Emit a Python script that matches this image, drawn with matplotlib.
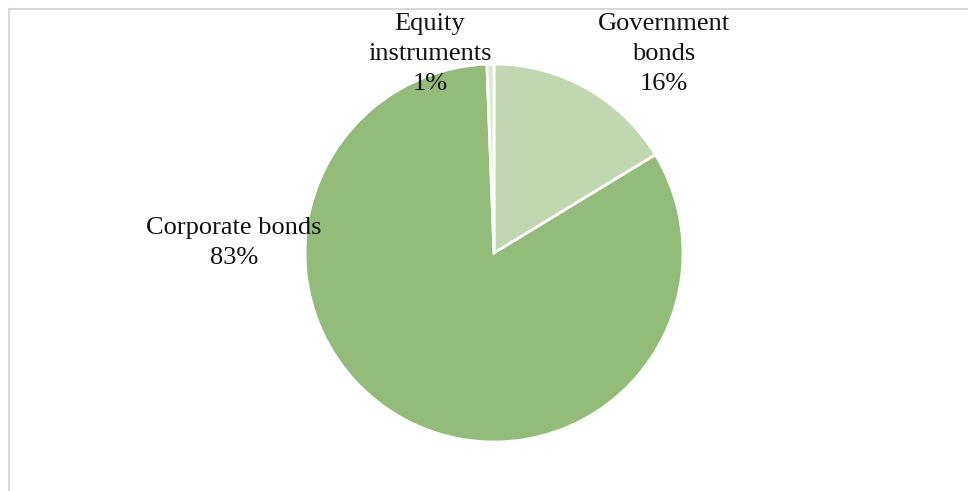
import matplotlib.pyplot as plt
from matplotlib.lines import Line2D

# Data
categories = ["Government\nbonds", "Corporate bonds", "Equity\ninstruments"]
shares = [16.3, 83.1, 0.6]
colors = ["#c0d7b1", "#93bb7a", "#dbe8d2"]

plt.rcParams["font.family"] = ["Liberation Serif", "DejaVu Serif"]

W, H = 968, 491
fig = plt.figure(figsize=(W / 100, H / 100), dpi=100)
ax = fig.add_axes([0, 0, 1, 1])

ax.pie(shares, colors=colors, startangle=90, counterclock=False,
       center=(494, H - 253), radius=189,
       wedgeprops=dict(edgecolor="white", linewidth=2))
ax.set_xlim(0, W)
ax.set_ylim(0, H)
ax.set_aspect("auto")
ax.set_axis_off()

# chart frame (only top and left edges visible)
ax.add_line(Line2D([8.5, 8.5], [0, H - 8.5], color="#d9d9d9", lw=1.5))
ax.add_line(Line2D([8.5, W], [H - 8.5, H - 8.5], color="#d9d9d9", lw=1.5))

# label positions (pixel coords, centre of text block)
label_pos = [(664, 54), (234, 243), (430, 54)]
for cat, val, (x, y) in zip(categories, shares, label_pos):
    ax.text(x, H - y, f"{cat}\n{round(val):d}%", ha="center", va="center",
            fontsize=19, linespacing=1.45, color="#111111")

fig.savefig("out.png", dpi=100)
